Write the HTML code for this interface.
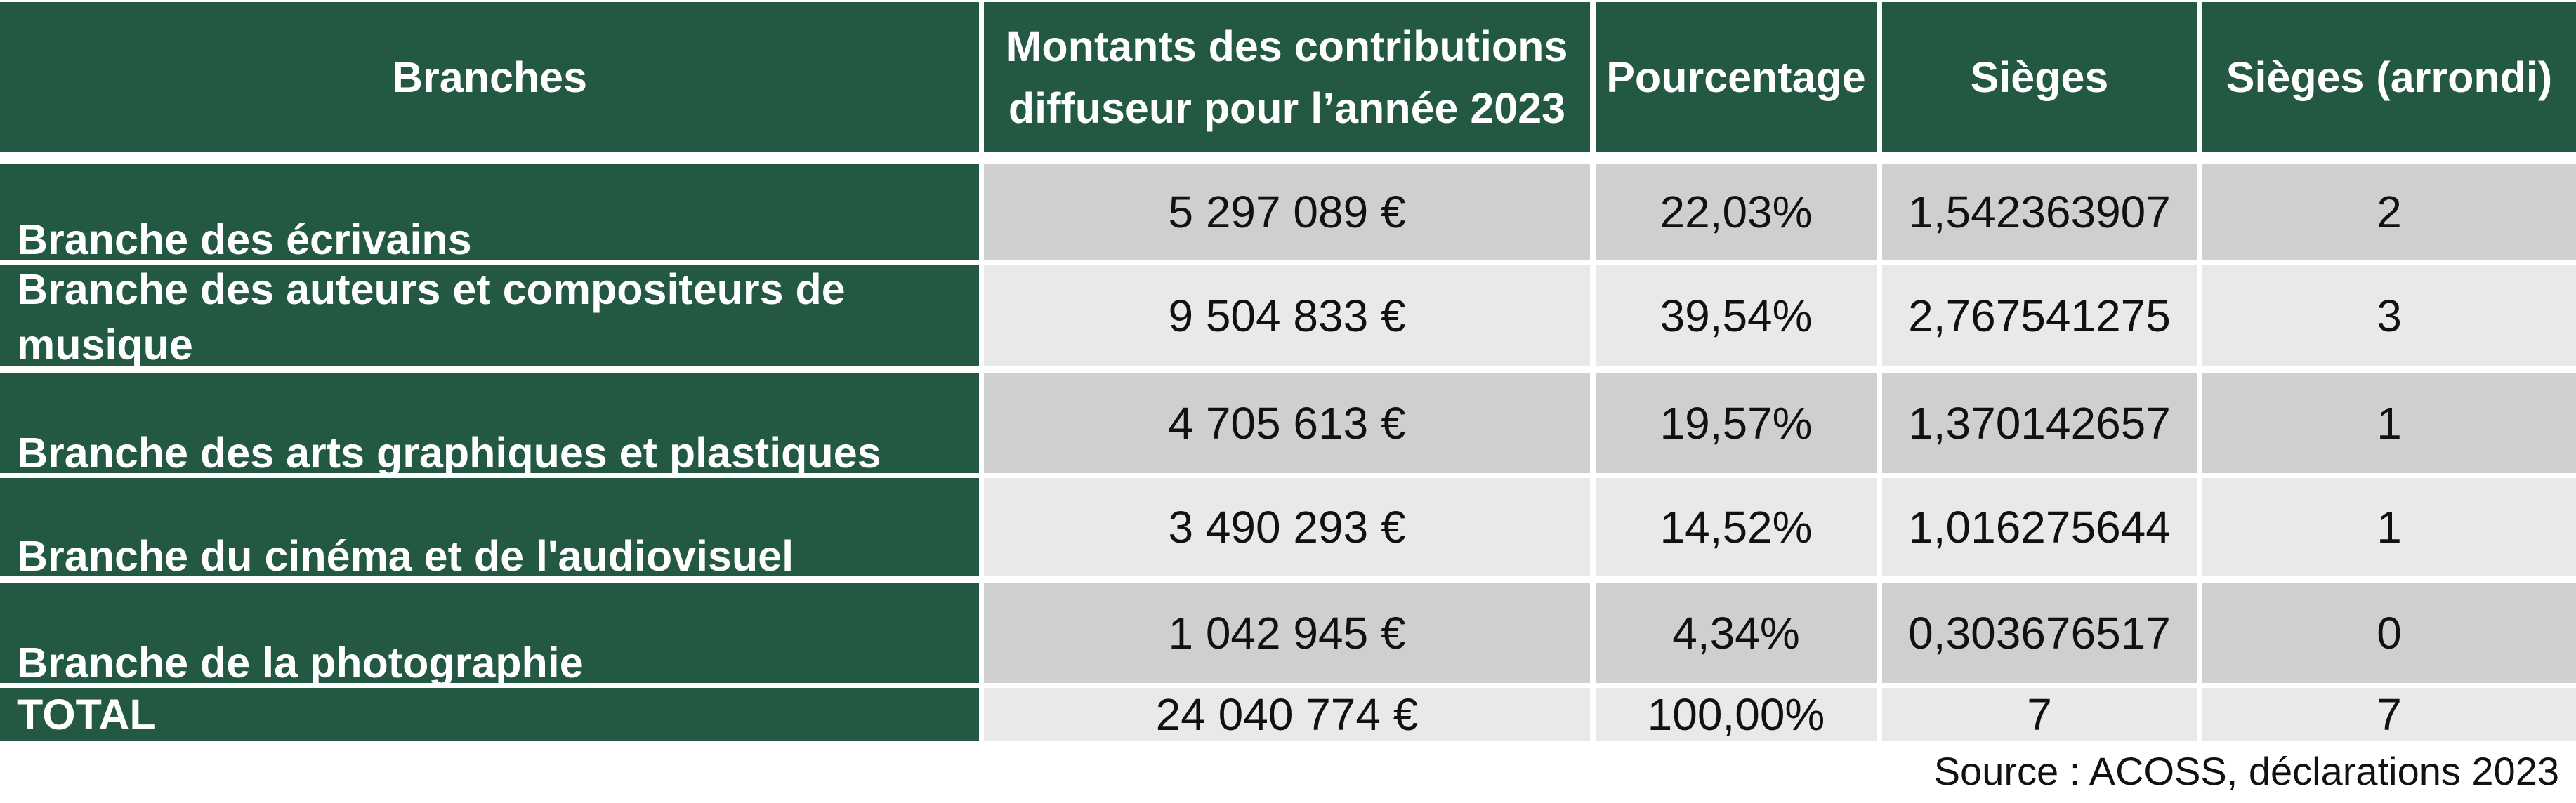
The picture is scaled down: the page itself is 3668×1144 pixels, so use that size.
<!DOCTYPE html>
<html><head><meta charset="utf-8"><style>
body{margin:0;width:3668px;height:1144px;background:#fff;position:relative;overflow:hidden;font-family:"Liberation Sans",Arial,sans-serif;}
.c{position:absolute;display:flex;align-items:center;justify-content:center;text-align:center;font-size:64px;color:#111;box-sizing:border-box;}
.g{background:#235843;color:#fff;font-weight:bold;font-size:61px;}
.d{background:#cdd0cf;}
.l{background:#e8e9e8;}
.lab{justify-content:flex-start;align-items:flex-end;text-align:left;padding:0 0 0 24px;line-height:58px;white-space:nowrap;}
</style></head><body>
<!-- header -->
<div class="c g" style="left:0;top:3px;width:1394px;height:214px">Branches</div>
<div class="c g" style="left:1401px;top:3px;width:863px;height:214px;line-height:88px">Montants des contributions<br>diffuseur pour l’année 2023</div>
<div class="c g" style="left:2272px;top:3px;width:400px;height:214px;white-space:nowrap">Pourcentage</div>
<div class="c g" style="left:2680px;top:3px;width:448px;height:214px">Sièges</div>
<div class="c g" style="left:3136px;top:3px;width:532px;height:214px;white-space:nowrap">Sièges (arrondi)</div>

<!-- row1 -->
<div class="c g lab" style="left:0;top:234px;width:1394px;height:136px">Branche des écrivains</div>
<div class="c d" style="left:1401px;top:234px;width:863px;height:136px">5 297 089 €</div>
<div class="c d" style="left:2272px;top:234px;width:400px;height:136px">22,03%</div>
<div class="c d" style="left:2680px;top:234px;width:448px;height:136px">1,542363907</div>
<div class="c d" style="left:3136px;top:234px;width:532px;height:136px">2</div>
<!-- row2 -->
<div class="c g lab" style="left:0;top:377px;width:1394px;height:145px;line-height:79px;overflow:hidden"><div style="transform:translateY(9px)">Branche des auteurs et compositeurs de<br>musique</div></div>
<div class="c l" style="left:1401px;top:377px;width:863px;height:145px">9 504 833 €</div>
<div class="c l" style="left:2272px;top:377px;width:400px;height:145px">39,54%</div>
<div class="c l" style="left:2680px;top:377px;width:448px;height:145px">2,767541275</div>
<div class="c l" style="left:3136px;top:377px;width:532px;height:145px">3</div>
<!-- row3 -->
<div class="c g lab" style="left:0;top:531px;width:1394px;height:143px">Branche des arts graphiques et plastiques</div>
<div class="c d" style="left:1401px;top:531px;width:863px;height:143px">4 705 613 €</div>
<div class="c d" style="left:2272px;top:531px;width:400px;height:143px">19,57%</div>
<div class="c d" style="left:2680px;top:531px;width:448px;height:143px">1,370142657</div>
<div class="c d" style="left:3136px;top:531px;width:532px;height:143px">1</div>
<!-- row4 -->
<div class="c g lab" style="left:0;top:681px;width:1394px;height:140px">Branche du cinéma et de l'audiovisuel</div>
<div class="c l" style="left:1401px;top:681px;width:863px;height:140px">3 490 293 €</div>
<div class="c l" style="left:2272px;top:681px;width:400px;height:140px">14,52%</div>
<div class="c l" style="left:2680px;top:681px;width:448px;height:140px">1,016275644</div>
<div class="c l" style="left:3136px;top:681px;width:532px;height:140px">1</div>
<!-- row5 -->
<div class="c g lab" style="left:0;top:830px;width:1394px;height:143px">Branche de la photographie</div>
<div class="c d" style="left:1401px;top:830px;width:863px;height:143px">1 042 945 €</div>
<div class="c d" style="left:2272px;top:830px;width:400px;height:143px">4,34%</div>
<div class="c d" style="left:2680px;top:830px;width:448px;height:143px">0,303676517</div>
<div class="c d" style="left:3136px;top:830px;width:532px;height:143px">0</div>
<!-- total -->
<div class="c g lab" style="left:0;top:980px;width:1394px;height:75px;align-items:center">TOTAL</div>
<div class="c l" style="left:1401px;top:980px;width:863px;height:75px">24 040 774 €</div>
<div class="c l" style="left:2272px;top:980px;width:400px;height:75px">100,00%</div>
<div class="c l" style="left:2680px;top:980px;width:448px;height:75px">7</div>
<div class="c l" style="left:3136px;top:980px;width:532px;height:75px">7</div>

<div style="position:absolute;right:24px;top:1066px;font-size:56px;color:#111;">Source : ACOSS, déclarations 2023</div>
</body></html>
